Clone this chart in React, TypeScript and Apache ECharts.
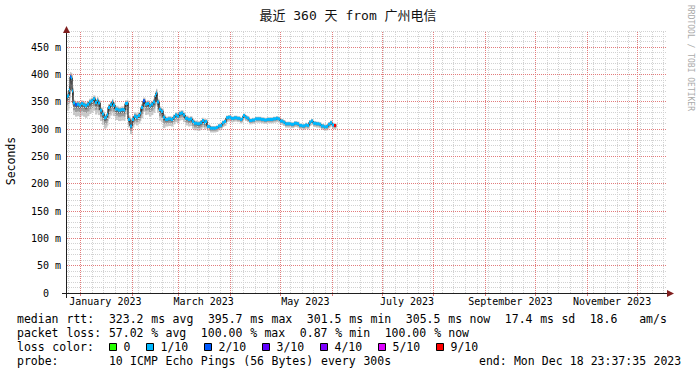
import React, { useEffect, useRef } from 'react';
import * as echarts from 'echarts';

// ---------- data ----------
const TITLE = '最近 360 天 from 广州电信';
const WINDOW_DAYS = 360;
// graph window: 360 days ending Mon Dec 18 23:37:35 2023
const END_UTC = Date.UTC(2023, 11, 18, 23, 37, 35);
const START_UTC = END_UTC - WINDOW_DAYS * 86400000;

// day offsets (from window start) of each consolidated sample
const days = [
  0, 0.6, 1.2, 1.8, 2.4, 3, 3.6, 4.8, 6, 7.2, 8.4, 9.6, 10.8, 12, 13.2, 14.4, 15.6, 16.8, 18, 18.6,
  19.8, 21, 22.2, 23.4, 24, 24.6, 25.8, 27, 27.6, 28.8, 30.6, 32.4, 34.2, 34.8, 36,
  36.6, 37.8, 39, 40.2, 41.4, 42.6, 43.8,
  44.4, 45.6, 46.8, 48, 49.2, 50.4, 51.6, 52.8, 53.4, 54, 55.2, 56.4, 57.6,
  58.8, 60.6, 62.4, 63.6, 64.8, 66, 67.2, 68.4, 69.6, 70.8, 72.6, 73.8, 75, 76.2, 78, 79.8, 81, 82.2, 82.8,
  84, 85.8, 87.6, 89.4, 90.6, 91.8, 93, 94.2, 95.4, 96.6, 98.4, 100.2, 102, 103.8, 105, 105.6, 106.8, 108, 109.2, 111,
  112.8, 114.6, 116.4, 118.2, 120, 121.8, 123.6, 125.4, 126.6, 127.8, 129.6, 130.8, 132.6, 134.4, 136.2, 138, 139.2, 141, 142.8, 144,
  145.2, 146.4, 147.6, 149.4, 151.2, 152.4, 154.2, 155.4, 156.6, 157.8, 159, 160.2,
];

// median rtt (ms)
const medianMs = [
  360, 362, 372, 396, 394, 370, 348, 345, 346, 344, 347, 345, 343, 346, 350, 352, 356, 349, 353, 348,
  335, 328, 321, 323, 327, 340, 345, 350, 344, 337, 335, 336, 335, 347, 348,
  318, 306, 318, 324, 322, 325, 330,
  340, 352, 346, 347, 343, 346, 350, 362, 366, 350, 336, 333, 322,
  318, 319, 318, 322, 326, 324, 329, 330, 326, 320, 318, 319, 314, 311, 310, 312, 316, 312, 314,
  305, 302, 302, 303, 306, 307, 312, 314, 321, 322, 320, 321, 320, 318, 320, 325, 322, 320, 316, 317,
  319, 319, 318, 317, 318, 318, 319, 320, 319, 315, 313, 310, 310, 309, 311, 310, 307, 306, 308, 307,
  313, 315, 311, 310, 309, 306, 304, 305, 309, 312, 308, 307,
];

// smoke extent below / above the median (ms)
const smokeBelow = [
  26, 26, 24, 20, 20, 26, 22, 22, 22, 22, 22, 22, 22, 22, 22, 22, 22, 22, 22, 22,
  20, 20, 20, 20, 20, 20, 20, 20, 20, 20, 20, 20, 20, 20, 20,
  15, 15, 15, 15, 15, 15, 15,
  20, 20, 20, 20, 20, 20, 20, 20, 20, 20, 20, 20, 20,
  13, 13, 13, 13, 13, 13, 13, 13, 13, 13, 13, 13, 13, 13, 13, 13, 13, 13, 13,
  8, 8, 8, 8, 8, 8, 8, 8, 8, 8, 7, 7, 7, 7, 7, 7, 7, 7, 7, 7,
  7, 7, 7, 7, 7, 7, 7, 7, 7, 7, 7, 7, 7, 7, 7, 7, 7, 7, 7, 7,
  7, 7, 7, 7, 7, 7, 7, 7, 7, 7, 7, 7,
];
const smokeAbove = [
  8, 8, 9, 9, 9, 9, 6, 6, 6, 6, 6, 6, 6, 6, 6, 6, 6, 6, 6, 6,
  6, 6, 6, 6, 6, 6, 6, 6, 6, 6, 6, 6, 6, 6, 6,
  7, 7, 7, 7, 7, 7, 7,
  6, 6, 6, 6, 6, 6, 6, 8, 8, 6, 6, 6, 6,
  5, 5, 5, 5, 5, 5, 5, 5, 5, 5, 5, 5, 5, 5, 5, 5, 5, 5, 5,
  4, 4, 4, 4, 4, 4, 4, 4, 4, 4, 4, 4, 4, 4, 4, 4, 4, 4, 4, 4,
  4, 4, 4, 4, 4, 4, 4, 4, 4, 4, 4, 4, 4, 4, 4, 4, 4, 4, 4, 4,
  4, 4, 4, 4, 4, 4, 4, 4, 4, 4, 4, 4,
];

// loss level (index into lossColors) of each sample
const lossLevel = [
  1, 1, 1, 2, 1, 1, 1, 2, 1, 1, 1, 1, 1, 1, 1, 1, 1, 1, 1, 1,
  1, 1, 1, 1, 1, 1, 1, 1, 1, 1, 1, 1, 1, 1, 1,
  1, 1, 1, 1, 1, 1, 1,
  1, 2, 1, 1, 1, 1, 1, 1, 1, 1, 1, 1, 1,
  1, 1, 1, 1, 1, 1, 1, 1, 1, 1, 1, 1, 1, 1, 1, 1, 1, 1, 1,
  1, 1, 1, 1, 1, 1, 1, 1, 1, 1, 1, 1, 1, 1, 1, 1, 1, 1, 1, 1,
  1, 1, 1, 1, 1, 1, 1, 1, 1, 1, 1, 1, 1, 1, 1, 1, 1, 1, 1, 1,
  1, 1, 1, 1, 1, 1, 1, 1, 1, 1, 1, 6,
];

const lossColors = ['#26ff00', '#00b8ff', '#0059ff', '#5e00ff', '#7e00ff', '#dd00ff', '#ff0000'];
const lossLabels = ['0', '1/10', '2/10', '3/10', '4/10', '5/10', '9/10'];

const xLabelMonths = [
  [2023, 0, 'January 2023'],
  [2023, 2, 'March 2023'],
  [2023, 4, 'May 2023'],
  [2023, 6, 'July 2023'],
  [2023, 8, 'September 2023'],
  [2023, 10, 'November 2023'],
] as [number, number, string][];

const Y_MAX = 480;
const Y_STEP = 10;
const Y_MAJOR = 50;

const statLines = [
  'median rtt:  323.2 ms avg  395.7 ms max  301.5 ms min  305.5 ms now  17.4 ms sd  18.6   am/s',
  'packet loss: 57.02 % avg  100.00 % max  0.87 % min  100.00 % now',
];
const lossColorLabel = 'loss color:';
const probeLine = 'probe:       10 ICMP Echo Pings (56 Bytes) every 300s';
const endLine = 'end: Mon Dec 18 23:37:35 2023';
const yAxisTitle = 'Seconds';
const watermark = 'RRDTOOL / TOBI OETIKER';

// ---------- helpers ----------
const DAY = 86400000;
const toDay = (t: number) => (t - START_UTC) / DAY;

const MONO = "'DejaVu Sans Mono', monospace";
const GRID_COLOR = '#d2d2d2';
const MGRID_COLOR = '#e27c7c';
const ARROW_COLOR = '#801f1f';
const AXIS_COLOR = '#1f1f1f';

const PLOT_LEFT = 67;
const PLOT_WIDTH = 600;
const PLOT_TOP = 31;
const PLOT_HEIGHT = 262;

// put grid lines onto pixel centres so they stay crisp
function snapDay(d: number): number {
  const px = PLOT_LEFT + (d / WINDOW_DAYS) * PLOT_WIDTH;
  const snapped = Math.floor(px) + 0.5;
  return ((snapped - PLOT_LEFT) / PLOT_WIDTH) * WINDOW_DAYS;
}
function snapVal(v: number): number {
  const py = PLOT_TOP + PLOT_HEIGHT - (v / Y_MAX) * PLOT_HEIGHT;
  const snapped = Math.floor(py) + 0.5;
  return ((PLOT_TOP + PLOT_HEIGHT - snapped) / PLOT_HEIGHT) * Y_MAX;
}

function monthStartDays(): number[] {
  const out: number[] = [];
  for (let m = 0; m < 12; m++) {
    const d = toDay(Date.UTC(2023, m, 1));
    if (d > 0 && d < WINDOW_DAYS) out.push(d);
  }
  return out;
}
function weekDays(): number[] {
  const out: number[] = [];
  let t = Date.UTC(2022, 11, 25); // first Sunday in window
  while (toDay(t) < WINDOW_DAYS) {
    out.push(toDay(t));
    t += 7 * DAY;
  }
  return out;
}

function wordTexts(line: string, x0: number, y: number, cw: number, fontSize: number) {
  const out: any[] = [];
  const re = /\S+/g;
  let m: RegExpExecArray | null;
  while ((m = re.exec(line))) {
    out.push({
      type: 'text',
      x: x0 + m.index * cw,
      y,
      silent: true,
      style: { text: m[0], fontFamily: MONO, fontSize, fill: '#000', textVerticalAlign: 'middle' },
    });
  }
  return out;
}

function bandSeries(name: string, frac: number, color: string, z: number) {
  return {
    name,
    type: 'custom',
    z,
    silent: true,
    encode: { x: [0, 2], y: [1, 3] },
    data: medianMs.map((v, i) => [
      days[i],
      v - smokeBelow[i] * frac,
      i + 1 < days.length ? days[i + 1] : days[i] + 1.2,
      v + smokeAbove[i] * frac,
    ]),
    renderItem: (_p: any, api: any) => {
      const a = api.coord([api.value(0), api.value(3)]);
      const b = api.coord([api.value(2), api.value(1)]);
      return {
        type: 'rect',
        shape: { x: a[0], y: a[1], width: b[0] - a[0] + 0.4, height: b[1] - a[1] },
        style: { fill: color },
      };
    },
  };
}

export default function App() {
  const ref = useRef<HTMLDivElement>(null);

  useEffect(() => {
    if (!ref.current) return;
    const chart = echarts.init(ref.current, undefined, { renderer: 'svg' });

    const months = monthStartDays();
    const weeks = weekDays();
    const labelDays = xLabelMonths.map(([y, m]) => toDay(Date.UTC(y, m, 1)) + 15);

    const minorVals: number[] = [];
    const majorVals: number[] = [];
    for (let v = Y_STEP; v <= Y_MAX; v += Y_STEP) {
      if (v % Y_MAJOR === 0) majorVals.push(v);
      else minorVals.push(v);
    }

    const graphic: any[] = [
      {
        type: 'text', x: 348, y: 15, silent: true,
        style: { text: TITLE, fontFamily: "'DejaVu Sans Mono', 'Noto Sans CJK SC', monospace", fontSize: 13, fill: '#111', textAlign: 'center', textVerticalAlign: 'middle' },
      },
      {
        type: 'text', x: 11, y: 161, rotation: Math.PI / 2, silent: true,
        style: { text: yAxisTitle, fontFamily: MONO, fontSize: 11.5, fill: '#000', textAlign: 'center', textVerticalAlign: 'middle' },
      },
      {
        type: 'text', x: 690, y: 58, rotation: -Math.PI / 2, silent: true,
        style: { text: watermark, fontFamily: MONO, fontSize: 8, fill: '#aaaaaa', textAlign: 'center', textVerticalAlign: 'middle' },
      },
      { type: 'line', silent: true, z: 10, shape: { x1: 62, y1: 293.5, x2: 668, y2: 293.5 }, style: { stroke: AXIS_COLOR, lineWidth: 1 } },
      { type: 'polygon', silent: true, z: 10, shape: { points: [[667, 290], [674, 293.5], [667, 297]] }, style: { fill: ARROW_COLOR } },
      { type: 'line', silent: true, z: 10, shape: { x1: 66.5, y1: 298, x2: 66.5, y2: 32 }, style: { stroke: AXIS_COLOR, lineWidth: 1 } },
      { type: 'polygon', silent: true, z: 10, shape: { points: [[63, 33], [66.5, 26], [70, 33]] }, style: { fill: ARROW_COLOR } },
    ];

    const CW = 7.07;
    graphic.push(...wordTexts(statLines[0], 17, 319, CW, 11.5));
    graphic.push(...wordTexts(statLines[1], 17, 333, CW, 11.5));
    graphic.push(...wordTexts(lossColorLabel, 17, 347, CW, 11.5));
    const boxX = [109, 146, 204, 262, 320, 378, 436];
    lossColors.forEach((c, i) => {
      graphic.push({
        type: 'rect', silent: true,
        shape: { x: boxX[i] + 0.5, y: 343.5, width: 7, height: 7 },
        style: { fill: c, stroke: '#000', lineWidth: 1 },
      });
      graphic.push({
        type: 'text', x: boxX[i] + 14.5, y: 347, silent: true,
        style: { text: lossLabels[i], fontFamily: MONO, fontSize: 11.5, fill: '#000', textVerticalAlign: 'middle' },
      });
    });
    graphic.push(...wordTexts(probeLine, 17, 361, CW, 11.5));
    graphic.push(...wordTexts(endLine, 479, 361, 6.98, 11.5));

    const dotted = [1, 1];
    const minorStyle = { color: GRID_COLOR, type: dotted, width: 1, opacity: 1 };
    const majorStyle = { color: MGRID_COLOR, type: dotted, width: 1, opacity: 1 };

    const option: any = {
      animation: false,
      backgroundColor: '#ffffff',
      grid: { left: PLOT_LEFT, width: PLOT_WIDTH, top: PLOT_TOP, height: PLOT_HEIGHT, containLabel: false },
      xAxis: {
        type: 'value',
        min: 0,
        max: WINDOW_DAYS,
        axisLine: { show: false },
        splitLine: { show: false },
        axisTick: {
          show: true,
          customValues: months.map(snapDay),
          length: 3,
          lineStyle: { color: MGRID_COLOR },
        },
        axisLabel: {
          show: true,
          customValues: labelDays,
          margin: 3,
          fontFamily: MONO,
          fontSize: 10,
          color: '#000',
          formatter: (v: number) => {
            let best = 0;
            labelDays.forEach((d, i) => {
              if (Math.abs(d - v) < Math.abs(labelDays[best] - v)) best = i;
            });
            return xLabelMonths[best][2];
          },
        },
      },
      yAxis: {
        type: 'value',
        min: 0,
        max: Y_MAX,
        interval: Y_MAJOR,
        axisLine: { show: false },
        axisTick: { show: false },
        splitLine: { show: false },
        axisLabel: {
          margin: 6,
          fontFamily: MONO,
          fontSize: 10,
          color: '#000',
          formatter: (v: number) => {
            if (v % Y_MAJOR !== 0) return '';
            if (v === 0) return '{z|0}';
            return v + ' m';
          },
          rich: { z: { fontFamily: MONO, fontSize: 10, color: '#000', padding: [0, 12, 0, 0] } },
        },
      },
      series: [
        {
          name: 'minor-grid',
          type: 'line',
          z: 1,
          silent: true,
          symbol: 'none',
          data: [[0, 0], [WINDOW_DAYS, 0]],
          lineStyle: { opacity: 0 },
          markLine: {
            silent: true,
            symbol: ['none', 'none'],
            label: { show: false },
            animation: false,
            lineStyle: minorStyle,
            data: [
              ...minorVals.map((v) => ({ yAxis: snapVal(v) })),
              ...weeks.map((d) => ({ xAxis: snapDay(d) })),
            ],
          },
        },
        {
          name: 'major-grid',
          type: 'line',
          z: 1,
          silent: true,
          symbol: 'none',
          data: [[0, 0], [WINDOW_DAYS, 0]],
          lineStyle: { opacity: 0 },
          markLine: {
            silent: true,
            symbol: ['none', 'none'],
            label: { show: false },
            animation: false,
            lineStyle: majorStyle,
            data: [
              ...majorVals.map((v) => ({ yAxis: snapVal(v) })),
              ...months.map((d) => ({ xAxis: snapDay(d) })),
            ],
          },
        },
        bandSeries('smoke-outer', 1, '#c8c8c8', 2),
        bandSeries('smoke-mid', 0.6, '#9c9c9c', 3),
        bandSeries('smoke-inner', 0.3, '#686868', 4),
        {
          name: 'median-line',
          type: 'line',
          z: 5,
          silent: true,
          step: 'end',
          symbol: 'none',
          data: medianMs.map((v, i) => [days[i], v]),
          lineStyle: { color: '#000', width: 1 },
        },
        {
          name: 'median',
          type: 'custom',
          z: 6,
          silent: true,
          encode: { x: [0, 2], y: 1 },
          data: medianMs.map((v, i) => [
            days[i],
            v,
            i + 1 < days.length ? days[i + 1] : days[i] + 1.2,
            lossLevel[i],
          ]),
          renderItem: (_p: any, api: any) => {
            const a = api.coord([api.value(0), api.value(1)]);
            const b = api.coord([api.value(2), api.value(1)]);
            return {
              type: 'rect',
              shape: { x: a[0], y: a[1] - 1.5, width: Math.max(b[0] - a[0], 1), height: 3 },
              style: { fill: lossColors[api.value(3)] },
            };
          },
        },
      ],
      graphic,
    };

    chart.setOption(option);
    return () => chart.dispose();
  }, []);

  return (
    <div
      ref={ref}
      style={{ position: 'fixed', left: 0, top: 0, width: 697, height: 375, background: '#fff' }}
    />
  );
}
